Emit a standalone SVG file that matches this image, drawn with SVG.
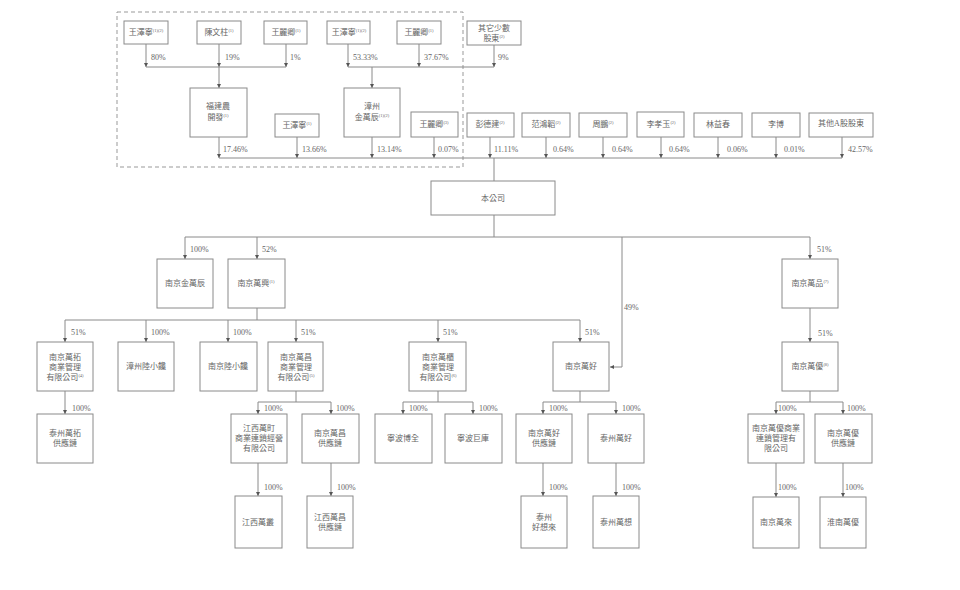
<svg xmlns="http://www.w3.org/2000/svg" width="960" height="590" viewBox="0 0 960 590">
<defs>
<marker id="arr" viewBox="0 0 6 6" refX="6" refY="3" markerWidth="4" markerHeight="4" markerUnits="userSpaceOnUse" orient="auto"><path d="M0,0 L6,3 L0,6 z" fill="#555"/></marker>
<style>
rect.n{fill:#fff;stroke:#8a8a8a;stroke-width:1}
text{font-family:"Liberation Serif","Noto Sans CJK TC",serif;font-size:8px;fill:#666}
text.c{text-anchor:middle}
tspan.s{font-size:4.5px}
#edges path{fill:none;stroke:#8a8a8a;stroke-width:1}
#edges path.a{marker-end:url(#arr)}
</style>
</defs>
<rect width="960" height="590" fill="#fff"/>
<rect x="117" y="12" width="346" height="155" fill="none" stroke="#999" stroke-width="1" stroke-dasharray="4,3"/>

<g id="edges">
<path class="a" d="M146,44 V67"/><path class="a" d="M219,44 V67"/><path class="a" d="M286,44 V67"/>
<path d="M146,67 H286"/><path class="a" d="M219,67 V88"/>
<path class="a" d="M348,44 V67"/><path class="a" d="M419,44 V67"/><path class="a" d="M494,45 V67"/>
<path d="M348,67 H494"/><path class="a" d="M372,67 V88"/>
<path class="a" d="M219,137 V158"/><path class="a" d="M297,137 V158"/><path class="a" d="M372,137 V158"/><path class="a" d="M434,137 V158"/>
<path class="a" d="M490,137 V158"/><path class="a" d="M546,137 V158"/><path class="a" d="M603,137 V158"/><path class="a" d="M661,137 V158"/>
<path class="a" d="M718,137 V158"/><path class="a" d="M776,137 V158"/><path class="a" d="M842,137 V158"/>
<path d="M219,158 H842"/><path d="M494,158 V181"/>
<path d="M494,215 V237"/><path d="M185,237 H810"/>
<path class="a" d="M185,237 V259"/><path class="a" d="M257,237 V259"/><path class="a" d="M810,237 V259"/>
<path class="a" d="M622,237 V367 H610"/>
<path class="a" d="M810,308 V342"/>
<path d="M257,308 V320"/><path d="M65,320 H580"/>
<path class="a" d="M65,320 V342"/><path class="a" d="M146,320 V342"/><path class="a" d="M228,320 V342"/>
<path class="a" d="M296,320 V342"/><path class="a" d="M438,320 V342"/><path class="a" d="M580,320 V342"/>
<path class="a" d="M65,391 V414"/>
<path d="M296,391 V402"/><path d="M258,402 H331"/><path class="a" d="M258,402 V414"/><path class="a" d="M331,402 V414"/>
<path d="M438,391 V402"/><path d="M403,402 H473"/><path class="a" d="M403,402 V414"/><path class="a" d="M473,402 V414"/>
<path d="M580,391 V402"/><path d="M543,402 H616"/><path class="a" d="M543,402 V414"/><path class="a" d="M616,402 V414"/>
<path d="M810,391 V402"/><path d="M776,402 H843"/><path class="a" d="M776,402 V414"/><path class="a" d="M843,402 V414"/>
<path class="a" d="M258,463 V496"/><path class="a" d="M331,463 V496"/><path class="a" d="M543,463 V496"/>
<path class="a" d="M616,463 V496"/><path class="a" d="M776,463 V497"/><path class="a" d="M843,463 V497"/>
</g>

<g id="edge-labels">
<text x="151" y="60">80%</text><text x="225" y="60">19%</text><text x="290" y="60">1%</text>
<text x="353" y="60">53.33%</text><text x="424" y="60">37.67%</text><text x="498" y="60">9%</text>
<text x="223" y="152">17.46%</text><text x="302" y="152">13.66%</text><text x="377" y="152">13.14%</text><text x="438" y="152">0.07%</text>
<text x="494" y="152">11.11%</text><text x="553" y="152">0.64%</text><text x="612" y="152">0.64%</text><text x="669" y="152">0.64%</text>
<text x="727" y="152">0.06%</text><text x="784" y="152">0.01%</text><text x="848" y="152">42.57%</text>
<text x="190" y="252">100%</text><text x="262" y="252">52%</text><text x="817" y="252">51%</text>
<text x="624" y="310">49%</text><text x="818" y="336">51%</text>
<text x="71" y="335">51%</text><text x="151" y="335">100%</text><text x="233" y="335">100%</text>
<text x="301" y="335">51%</text><text x="443" y="335">51%</text><text x="585" y="335">51%</text>
<text x="72" y="411">100%</text>
<text x="264" y="411">100%</text><text x="336" y="411">100%</text>
<text x="409" y="411">100%</text><text x="479" y="411">100%</text>
<text x="549" y="411">100%</text><text x="622" y="411">100%</text>
<text x="778" y="411">100%</text><text x="847" y="411">100%</text>
<text x="264" y="490">100%</text><text x="337" y="490">100%</text><text x="549" y="490">100%</text>
<text x="622" y="490">100%</text><text x="778" y="490">100%</text><text x="845" y="490">100%</text>
</g>

<g id="n-wzn12a"><rect class="n" x="124" y="21" width="44" height="23"/><text class="c" x="146" y="35">王澤寧<tspan class="s" dy="-3">(1)(2)</tspan></text></g>
<g id="n-cwz"><rect class="n" x="197" y="21" width="44" height="23"/><text class="c" x="219" y="35">陳文柱<tspan class="s" dy="-3">(1)</tspan></text></g>
<g id="n-wlq1a"><rect class="n" x="264" y="21" width="43" height="23"/><text class="c" x="286" y="35">王麗卿<tspan class="s" dy="-3">(1)</tspan></text></g>
<g id="n-wzn12b"><rect class="n" x="327" y="21" width="43" height="23"/><text class="c" x="349" y="35">王澤寧<tspan class="s" dy="-3">(1)(2)</tspan></text></g>
<g id="n-wlq1b"><rect class="n" x="397" y="21" width="44" height="23"/><text class="c" x="419" y="35">王麗卿<tspan class="s" dy="-3">(1)</tspan></text></g>
<g id="n-others"><rect class="n" x="467" y="21" width="54" height="24"/><text class="c" x="494" y="31">其它少數</text><text class="c" x="494" y="41">股東<tspan class="s" dy="-3">(2)</tspan></text></g>

<g id="n-fjn"><rect class="n" x="190" y="88" width="57" height="49"/><text class="c" x="218" y="109">福建農</text><text class="c" x="218" y="120">開發<tspan class="s" dy="-3">(1)</tspan></text></g>
<g id="n-zzjwc"><rect class="n" x="344" y="88" width="56" height="49"/><text class="c" x="372" y="109">漳州</text><text class="c" x="372" y="120">金萬辰<tspan class="s" dy="-3">(1)(2)</tspan></text></g>
<g id="n-wzn1"><rect class="n" x="275" y="114" width="44" height="23"/><text class="c" x="297" y="128">王澤寧<tspan class="s" dy="-3">(1)</tspan></text></g>
<g id="n-wlq3"><rect class="n" x="411" y="112" width="47" height="25"/><text class="c" x="434" y="127">王麗卿<tspan class="s" dy="-3">(3)</tspan></text></g>

<g id="n-pdj"><rect class="n" x="467" y="113" width="47" height="24"/><text class="c" x="490" y="127">彭德建<tspan class="s" dy="-3">(2)</tspan></text></g>
<g id="n-fht"><rect class="n" x="522" y="113" width="48" height="24"/><text class="c" x="546" y="127">范鴻韜<tspan class="s" dy="-3">(2)</tspan></text></g>
<g id="n-zp"><rect class="n" x="579" y="113" width="48" height="24"/><text class="c" x="603" y="127">周鵬<tspan class="s" dy="-3">(2)</tspan></text></g>
<g id="n-lxy"><rect class="n" x="637" y="112" width="47" height="25"/><text class="c" x="661" y="127">李孝玉<tspan class="s" dy="-3">(2)</tspan></text></g>
<g id="n-lyc"><rect class="n" x="694" y="113" width="48" height="24"/><text class="c" x="718" y="127">林益春</text></g>
<g id="n-lb"><rect class="n" x="752" y="113" width="48" height="24"/><text class="c" x="776" y="127">李博</text></g>
<g id="n-otherA"><rect class="n" x="809" y="113" width="64" height="24"/><text class="c" x="841" y="126">其他A股股東</text></g>

<g id="n-company"><rect class="n" x="431" y="181" width="124" height="34"/><text class="c" x="493" y="201">本公司</text></g>

<g id="n-njjwc"><rect class="n" x="157" y="259" width="56" height="49"/><text class="c" x="185" y="286">南京金萬辰</text></g>
<g id="n-njwx"><rect class="n" x="228" y="259" width="57" height="49"/><text class="c" x="256" y="286">南京萬興<tspan class="s" dy="-3">(1)</tspan></text></g>
<g id="n-njwp"><rect class="n" x="782" y="259" width="56" height="49"/><text class="c" x="810" y="286">南京萬品<tspan class="s" dy="-3">(7)</tspan></text></g>
<g id="n-njwy"><rect class="n" x="782" y="342" width="56" height="49"/><text class="c" x="810" y="369">南京萬優<tspan class="s" dy="-3">(8)</tspan></text></g>

<g id="n-njwt"><rect class="n" x="37" y="342" width="56" height="49"/><text class="c" x="65" y="360">南京萬拓</text><text class="c" x="65" y="370">商業管理</text><text class="c" x="65" y="380">有限公司<tspan class="s" dy="-3">(4)</tspan></text></g>
<g id="n-zzlxc"><rect class="n" x="118" y="342" width="56" height="49"/><text class="c" x="146" y="369">漳州陸小饞</text></g>
<g id="n-njlxc"><rect class="n" x="200" y="342" width="57" height="49"/><text class="c" x="228" y="369">南京陸小饞</text></g>
<g id="n-njwc"><rect class="n" x="268" y="342" width="55" height="49"/><text class="c" x="296" y="360">南京萬昌</text><text class="c" x="296" y="370">商業管理</text><text class="c" x="296" y="380">有限公司<tspan class="s" dy="-3">(5)</tspan></text></g>
<g id="n-njwg"><rect class="n" x="409" y="342" width="57" height="49"/><text class="c" x="438" y="360">南京萬櫃</text><text class="c" x="438" y="370">商業管理</text><text class="c" x="438" y="380">有限公司<tspan class="s" dy="-3">(6)</tspan></text></g>
<g id="n-njwh"><rect class="n" x="553" y="342" width="56" height="49"/><text class="c" x="581" y="369">南京萬好</text></g>

<g id="n-tzwt"><rect class="n" x="37" y="414" width="56" height="49"/><text class="c" x="65" y="436">泰州萬拓</text><text class="c" x="65" y="446">供應鏈</text></g>
<g id="n-jxwt"><rect class="n" x="231" y="414" width="56" height="49"/><text class="c" x="259" y="431">江西萬町</text><text class="c" x="259" y="441">商業連鎖經營</text><text class="c" x="259" y="451">有限公司</text></g>
<g id="n-njwcg"><rect class="n" x="302" y="414" width="57" height="49"/><text class="c" x="330" y="436">南京萬昌</text><text class="c" x="330" y="446">供應鏈</text></g>
<g id="n-nbbq"><rect class="n" x="375" y="414" width="57" height="49"/><text class="c" x="403" y="441">寧波博全</text></g>
<g id="n-nbjk"><rect class="n" x="445" y="414" width="57" height="49"/><text class="c" x="473" y="441">寧波巨庫</text></g>
<g id="n-njwhg"><rect class="n" x="516" y="414" width="56" height="49"/><text class="c" x="544" y="436">南京萬好</text><text class="c" x="544" y="446">供應鏈</text></g>
<g id="n-tzwh"><rect class="n" x="588" y="414" width="56" height="49"/><text class="c" x="616" y="441">泰州萬好</text></g>
<g id="n-njwysy"><rect class="n" x="748" y="414" width="56" height="49"/><text class="c" x="776" y="431">南京萬優商業</text><text class="c" x="776" y="441">連鎖管理有</text><text class="c" x="776" y="451">限公司</text></g>
<g id="n-njwyg"><rect class="n" x="815" y="414" width="57" height="49"/><text class="c" x="843" y="436">南京萬優</text><text class="c" x="843" y="446">供應鏈</text></g>

<g id="n-jxwc"><rect class="n" x="235" y="496" width="47" height="52"/><text class="c" x="258" y="525">江西萬叢</text></g>
<g id="n-jxwcg"><rect class="n" x="307" y="496" width="46" height="52"/><text class="c" x="330" y="520">江西萬昌</text><text class="c" x="330" y="530">供應鏈</text></g>
<g id="n-tzhxl"><rect class="n" x="521" y="496" width="46" height="52"/><text class="c" x="544" y="520">泰州</text><text class="c" x="544" y="530">好想來</text></g>
<g id="n-tzwx"><rect class="n" x="593" y="496" width="46" height="52"/><text class="c" x="616" y="525">泰州萬想</text></g>
<g id="n-njwl"><rect class="n" x="753" y="497" width="46" height="51"/><text class="c" x="776" y="525">南京萬來</text></g>
<g id="n-hnwy"><rect class="n" x="820" y="497" width="46" height="51"/><text class="c" x="843" y="525">淮南萬優</text></g>
</svg>
